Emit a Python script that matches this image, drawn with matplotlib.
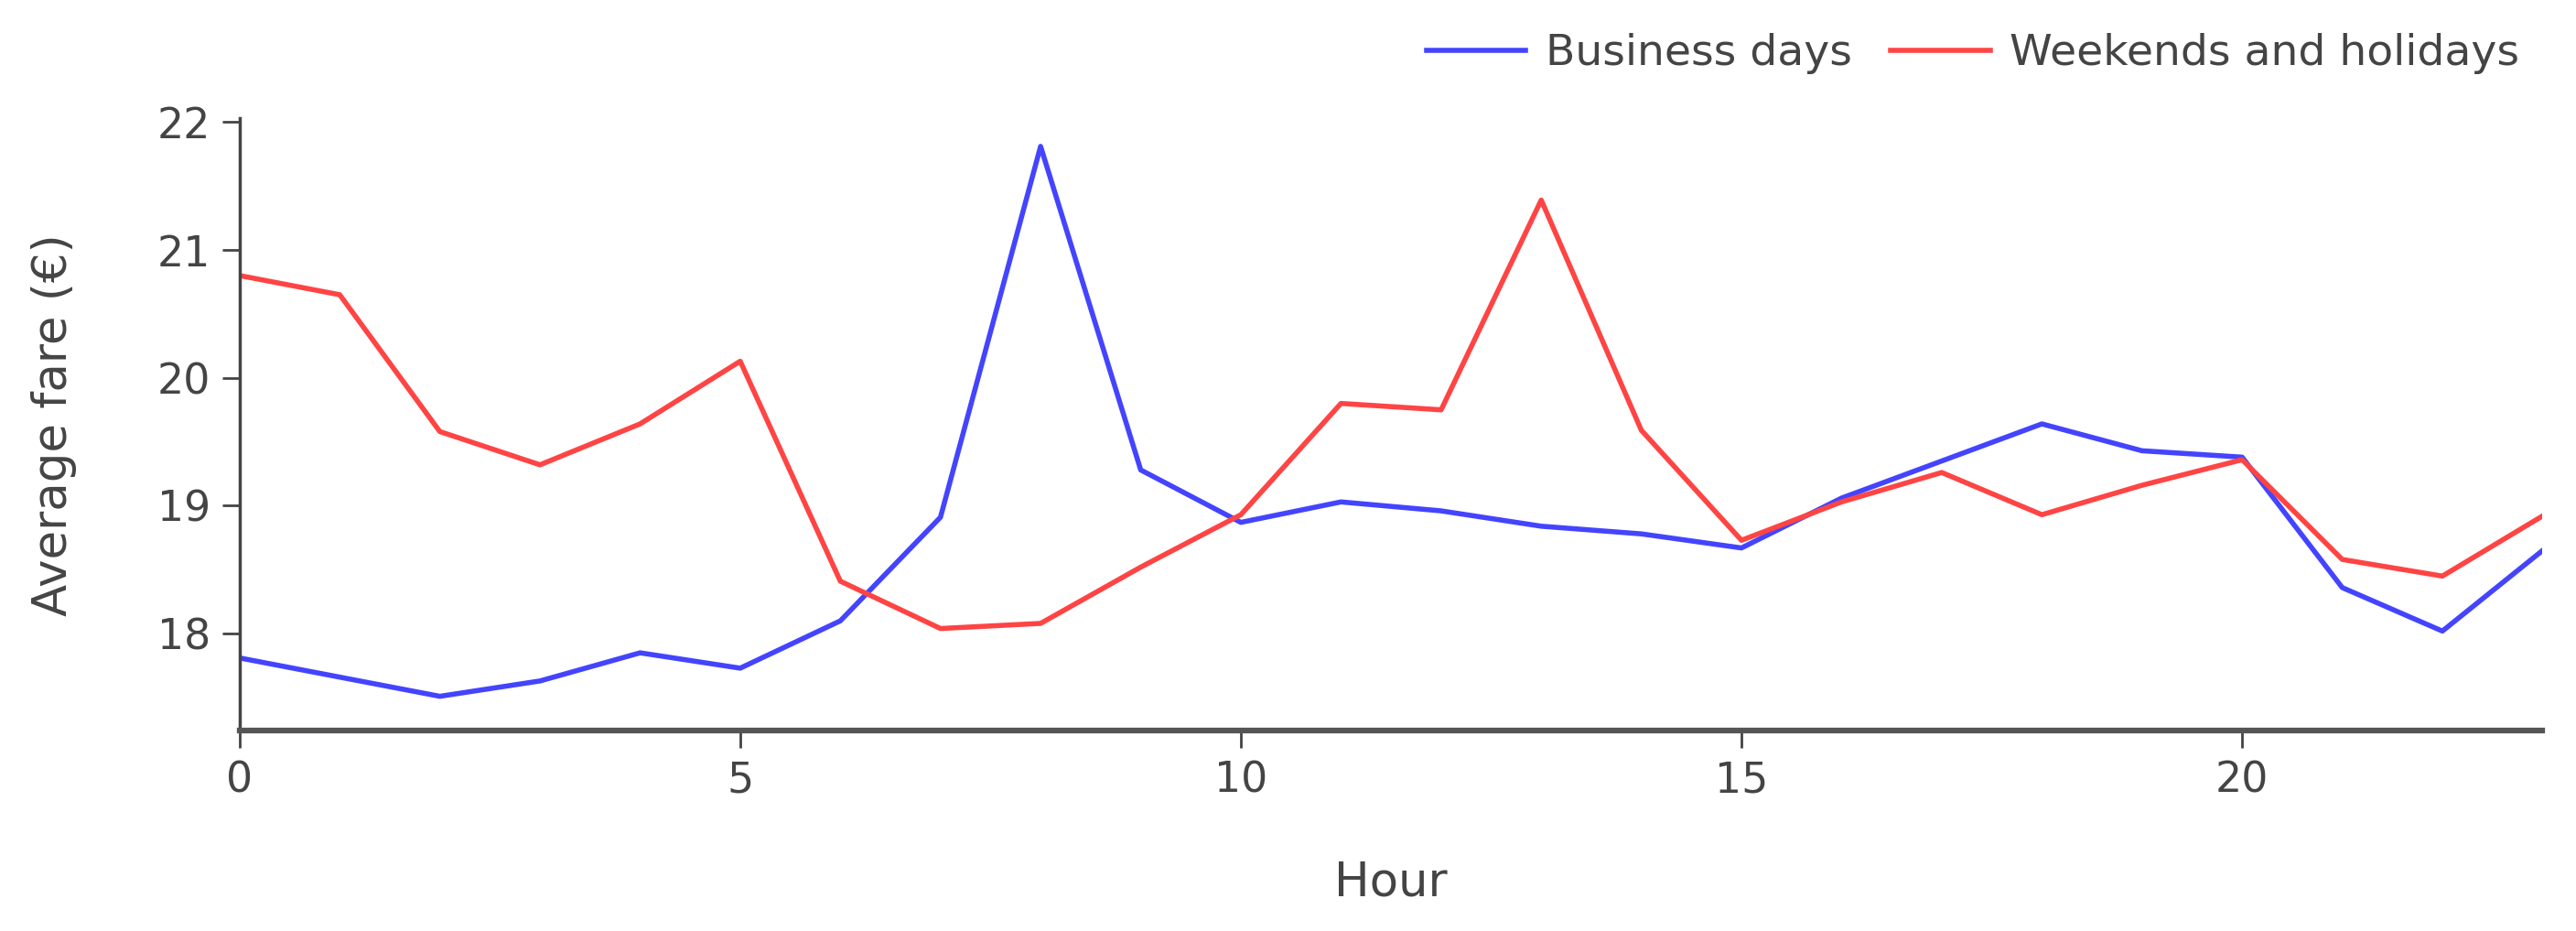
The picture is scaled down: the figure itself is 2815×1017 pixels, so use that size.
import numpy as np
import matplotlib.pyplot as plt

plt.rcParams['font.family'] = ['DejaVu Sans']

hours = list(range(24))

business_days = [17.81, 17.66, 17.51, 17.63, 17.85, 17.73, 18.10, 18.91,
                 21.81, 19.28, 18.87, 19.03, 18.96, 18.84, 18.78, 18.67,
                 19.06, 19.35, 19.64, 19.43, 19.38, 18.36, 18.02, 18.65]

weekends_holidays = [20.80, 20.65, 19.58, 19.32, 19.64, 20.13, 18.41, 18.04,
                     18.08, 18.52, 18.93, 19.80, 19.75, 21.39, 19.59, 18.73,
                     19.03, 19.26, 18.93, 19.16, 19.36, 18.58, 18.45, 18.92]

x_ticks = [0, 5, 10, 15, 20]
y_ticks = [18, 19, 20, 21, 22]

fig = plt.figure(figsize=(28.15, 10.17), dpi=100)
ax = fig.add_axes([0.093, 0.215, 0.894, 0.658])

ax.plot(hours, business_days, color='#4444ff', lw=4, label='Business days')
ax.plot(hours, weekends_holidays, color='#ff4444', lw=4, label='Weekends and holidays')

ax.set_xlim(0, 23)
ax.set_ylim(17.24, 22.03)
ax.set_xticks(x_ticks)
ax.set_yticks(y_ticks)

# plotly-ish axes: only left and bottom lines
for s in ['top', 'right']:
    ax.spines[s].set_visible(False)
ax.spines['left'].set_color('#444444')
ax.spines['left'].set_linewidth(2.5)
ax.spines['bottom'].set_color('#555555')
ax.spines['bottom'].set_linewidth(4.5)

ax.tick_params(axis='both', labelsize=33, colors='#444444', length=14, width=2)
ax.tick_params(axis='y', pad=9)
ax.tick_params(axis='x', pad=9)

ax.set_xlabel('Hour', fontsize=37, color='#444444', va='center')
ax.set_ylabel('Average fare (€)', fontsize=37, color='#444444', va='center')
ax.xaxis.set_label_coords(0.5, -0.248)
ax.yaxis.set_label_coords(-0.0807, 0.5)

fig.legend(loc='center right', bbox_to_anchor=(0.993, 0.942), ncol=2,
           frameon=False, fontsize=34, handlelength=2.3, handletextpad=0.45,
           columnspacing=0.9, labelcolor='#444444')

fig.savefig('out.png', dpi=100, facecolor='white')
